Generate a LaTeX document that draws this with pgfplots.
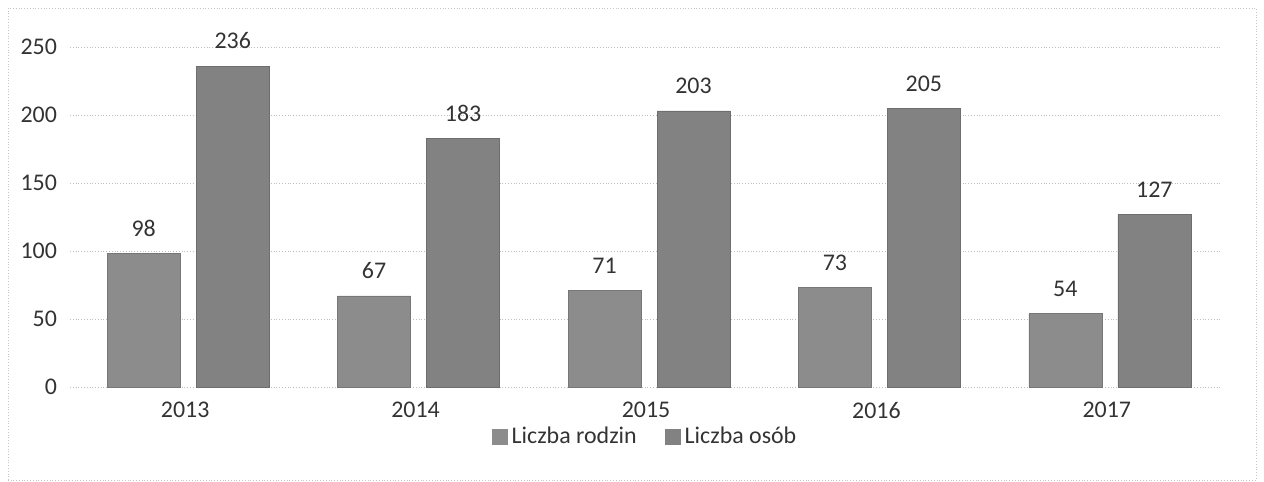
\documentclass[border=0pt]{standalone}
\usepackage{pgfplots}
\pgfplotsset{compat=1.18}
\usepackage{fontspec}
\setmainfont{Carlito}
\definecolor{txt}{HTML}{333333}
\definecolor{grid}{HTML}{A0A0A0}
\definecolor{rodz}{HTML}{8C8C8C}
\definecolor{osob}{HTML}{828282}
\begin{document}
\begin{tikzpicture}
\path (0,0) rectangle (632bp,241bp);
\draw[grid!60, densely dotted, line width=0.4pt] (4bp,1bp) rectangle (628bp,237bp);
\begin{axis}[
  at={(35bp,47.5bp)}, anchor=south west,
  scale only axis, width=576bp, height=170bp,
  ymin=0, ymax=250, xmin=-0.5, xmax=4.5,
  ytick={0,50,...,250},
  xtick=data, xticklabels={2013,2014,2015,2016,2017},
  xmajorgrids=false, ymajorgrids=true,
  grid style={grid, densely dotted, line width=0.5pt},
  axis line style={draw=none},
  major tick length=0pt,
  xtick style={draw=none}, ytick style={draw=none},
  tick label style={font=\fontsize{12}{14}\selectfont, text=txt},
  /pgf/number format/assume math mode=true,
  yticklabel style={xshift=-3pt},
  xticklabel style={yshift=-4pt},
  ybar=8bp, bar width=36.5bp,
  clip=false,
  nodes near coords,
  every node near coord/.append style={font=\fontsize{12}{14}\selectfont, text=txt, yshift=5pt},
  legend columns=2,
  legend style={at={(0.5,-0.147)}, anchor=center, draw=none, fill=none,
    font=\fontsize{12}{14}\selectfont, text=txt,
    /tikz/every even column/.append style={column sep=12pt}},
  legend image code/.code={\fill[#1, draw=none] (0bp,-4bp) rectangle (8bp,4bp);},
]
\addplot[fill=rodz, draw=rodz!85!black, line width=0.3pt, xshift=1.5bp] coordinates {(0,98) (1,67) (2,71) (3,73) (4,54)};
\addplot[fill=osob, draw=osob!85!black, line width=0.3pt, xshift=1.5bp] coordinates {(0,236) (1,183) (2,203) (3,205) (4,127)};
\legend{Liczba rodzin, Liczba osób}
\end{axis}
\end{tikzpicture}
\end{document}
